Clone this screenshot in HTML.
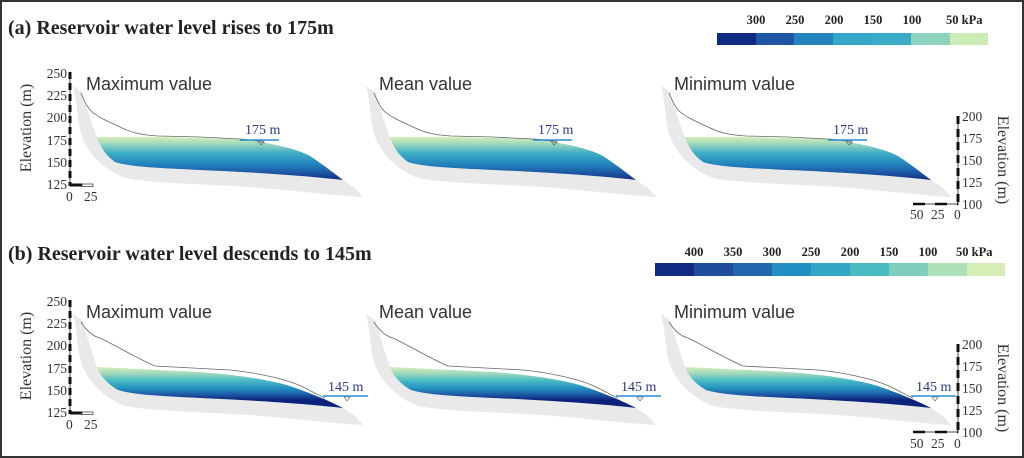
<!DOCTYPE html>
<html><head><meta charset="utf-8"><style>
html,body{margin:0;padding:0;background:#fff}
svg{display:block}
text{font-family:"Liberation Serif",serif;fill:#222}
.t{font-size:20px;font-weight:bold}
.lb{font-size:12.5px;font-weight:bold}
.pn{font-size:18px;fill:#333;font-family:"Liberation Sans",sans-serif}
.ax{font-size:13.5px;fill:#333}
.el{font-size:16px;fill:#333}
.wl{font-size:14px;fill:#2a3a8a}
</style></head><body>
<svg width="1024" height="458" viewBox="0 0 1024 458" xmlns="http://www.w3.org/2000/svg">
<defs>
<linearGradient id="ga" x1="0" y1="137" x2="0" y2="182" gradientUnits="userSpaceOnUse">
<stop offset="0" stop-color="#d6eeb6"/><stop offset="0.15" stop-color="#9fd8bd"/><stop offset="0.35" stop-color="#3fb0c6"/><stop offset="0.6" stop-color="#2284bd"/><stop offset="0.8" stop-color="#1d55a3"/><stop offset="1" stop-color="#0b237a"/>
</linearGradient>
<linearGradient id="gb" x1="0" y1="367" x2="0" y2="400" gradientUnits="userSpaceOnUse">
<stop offset="0" stop-color="#d6eeb6"/><stop offset="0.2" stop-color="#9fd8bd"/><stop offset="0.4" stop-color="#4cbcc4"/><stop offset="0.65" stop-color="#2290c0"/><stop offset="0.85" stop-color="#1d55a3"/><stop offset="1" stop-color="#0b237a"/>
</linearGradient>
<g id="pa">
<path d="M73,86 L82,92 L90,118 L97,137 L343,180 L355,188 L363,197 C340,196 300,191 250,187 C200,184 150,183 125,178 C100,168 85,150 80,130 C77,115 76,95 73,86Z" fill="#e9e9e9"/>
<path d="M97,137 L160,137 L240,139 C270,143 295,148 310,156 C325,166 335,174 343,180 C310,176 250,172 200,170 C160,168 130,167 115,162 C105,155 100,146 97,137Z" fill="url(#ga)"/>
<path d="M81,93 C85,102 88,110 95,114 C100,118 105,120 120,127 C130,132 140,135 158,136 L200,137 L240,139 C255,140 262,142 265,143" fill="none" stroke="#666" stroke-width="0.8"/>
<line x1="240" y1="140" x2="279" y2="140" stroke="#2a8ed0" stroke-width="1.5"/>
<path d="M258,141 L264,141 L261,145Z" fill="none" stroke="#555" stroke-width="0.6"/>
</g>
<g id="pb">
<path d="M73,314 L82,320 L90,346 L97,367 L343,408 L355,416 L363,425 C340,424 300,419 250,415 C200,412 150,411 125,406 C100,396 85,378 80,358 C77,343 76,323 73,314Z" fill="#e9e9e9"/>
<path d="M97,367 L200,372 C240,375 270,380 290,386 C310,393 330,401 343,408 C310,404 250,400 200,398 C160,396 135,395 118,390 C106,383 100,375 97,367Z" fill="url(#gb)"/>
<path d="M81,322 C86,330 92,336 100,338 C115,345 140,360 155,366 L230,370 C260,373 290,380 305,388 C315,393 322,397 325,398" fill="none" stroke="#666" stroke-width="0.8"/>
<line x1="323" y1="396" x2="368" y2="396" stroke="#2a8ed0" stroke-width="1.5"/>
<path d="M344,397 L350,397 L347,401Z" fill="none" stroke="#555" stroke-width="0.6"/>
</g>
</defs>
<rect x="1" y="1" width="1022" height="456" fill="none" stroke="#333" stroke-width="2"/>

<text class="t" x="8" y="34">(a)  Reservoir water level rises to 175m</text>
<text class="t" x="8" y="260">(b)  Reservoir water level descends to 145m</text>

<rect x="717" y="33" width="39" height="12" fill="#0e2a82"/>
<rect x="756" y="33" width="38" height="12" fill="#1f55a5"/>
<rect x="794" y="33" width="39" height="12" fill="#2383bd"/>
<rect x="833" y="33" width="39" height="12" fill="#35a6c8"/>
<rect x="872" y="33" width="39" height="12" fill="#3aabc8"/>
<rect x="911" y="33" width="39" height="12" fill="#8dd3be"/>
<rect x="950" y="33" width="38" height="12" fill="#cdebb5"/>
<text class="lb" x="756" y="24" text-anchor="middle">300</text>
<text class="lb" x="795" y="24" text-anchor="middle">250</text>
<text class="lb" x="834" y="24" text-anchor="middle">200</text>
<text class="lb" x="873" y="24" text-anchor="middle">150</text>
<text class="lb" x="912" y="24" text-anchor="middle">100</text>
<text class="lb" x="946" y="24">50 kPa</text>

<rect x="655" y="263" width="39" height="13" fill="#0e2a82"/>
<rect x="694" y="263" width="39" height="13" fill="#1f4d9e"/>
<rect x="733" y="263" width="39" height="13" fill="#2367ae"/>
<rect x="772" y="263" width="39" height="13" fill="#2290c2"/>
<rect x="811" y="263" width="39" height="13" fill="#33a8c6"/>
<rect x="850" y="263" width="39" height="13" fill="#4cbcc4"/>
<rect x="889" y="263" width="39" height="13" fill="#7fcdbd"/>
<rect x="928" y="263" width="39" height="13" fill="#aee0b7"/>
<rect x="967" y="263" width="38" height="13" fill="#d4eeb5"/>
<text class="lb" x="694" y="256" text-anchor="middle">400</text>
<text class="lb" x="733" y="256" text-anchor="middle">350</text>
<text class="lb" x="772" y="256" text-anchor="middle">300</text>
<text class="lb" x="811" y="256" text-anchor="middle">250</text>
<text class="lb" x="850" y="256" text-anchor="middle">200</text>
<text class="lb" x="889" y="256" text-anchor="middle">150</text>
<text class="lb" x="928" y="256" text-anchor="middle">100</text>
<text class="lb" x="956" y="256">50 kPa</text>

<use href="#pa"/>
<use href="#pa" transform="translate(293,0)"/>
<use href="#pa" transform="translate(588,0)"/>
<text class="pn" x="86" y="90">Maximum value</text>
<text class="pn" x="379" y="90">Mean value</text>
<text class="pn" x="674" y="90">Minimum value</text>
<text class="wl" x="245" y="134">175 m</text>
<text class="wl" x="538" y="134">175 m</text>
<text class="wl" x="833" y="134">175 m</text>

<use href="#pb"/>
<use href="#pb" transform="translate(293,0)"/>
<use href="#pb" transform="translate(588,0)"/>
<text class="pn" x="86" y="318">Maximum value</text>
<text class="pn" x="379" y="318">Mean value</text>
<text class="pn" x="674" y="318">Minimum value</text>
<text class="wl" x="328" y="391">145 m</text>
<text class="wl" x="621" y="391">145 m</text>
<text class="wl" x="916" y="391">145 m</text>

<line x1="70" y1="72" x2="70" y2="186" stroke="#111" stroke-width="3" stroke-dasharray="7,4"/>
<line x1="70" y1="72" x2="70" y2="186" stroke="#111" stroke-width="0.8"/>
<line x1="70" y1="185" x2="93" y2="185" stroke="#111" stroke-width="1"/>
<line x1="70" y1="185" x2="82" y2="185" stroke="#111" stroke-width="3"/>
<rect x="82" y="184" width="11" height="2.5" fill="#fff" stroke="#111" stroke-width="0.6"/>
<g text-anchor="end">
<text class="ax" x="67" y="78">250</text><text class="ax" x="67" y="100">225</text><text class="ax" x="67" y="122">200</text><text class="ax" x="67" y="145">175</text><text class="ax" x="67" y="167">150</text><text class="ax" x="67" y="189">125</text>
</g>
<text class="ax" x="66" y="201">0</text><text class="ax" x="84" y="201">25</text>
<text class="el" transform="translate(31,128) rotate(-90)" text-anchor="middle">Elevation (m)</text>

<line x1="70" y1="300" x2="70" y2="414" stroke="#111" stroke-width="3" stroke-dasharray="7,4"/>
<line x1="70" y1="300" x2="70" y2="414" stroke="#111" stroke-width="0.8"/>
<line x1="70" y1="413" x2="93" y2="413" stroke="#111" stroke-width="1"/>
<line x1="70" y1="413" x2="82" y2="413" stroke="#111" stroke-width="3"/>
<rect x="82" y="412" width="11" height="2.5" fill="#fff" stroke="#111" stroke-width="0.6"/>
<g text-anchor="end">
<text class="ax" x="67" y="306">250</text><text class="ax" x="67" y="328">225</text><text class="ax" x="67" y="350">200</text><text class="ax" x="67" y="373">175</text><text class="ax" x="67" y="395">150</text><text class="ax" x="67" y="417">125</text>
</g>
<text class="ax" x="66" y="429">0</text><text class="ax" x="84" y="429">25</text>
<text class="el" transform="translate(31,356) rotate(-90)" text-anchor="middle">Elevation (m)</text>

<line x1="958" y1="116" x2="958" y2="205" stroke="#111" stroke-width="3" stroke-dasharray="8,5"/>
<line x1="958" y1="116" x2="958" y2="205" stroke="#111" stroke-width="0.8"/>
<line x1="913" y1="204" x2="958" y2="204" stroke="#111" stroke-width="2.5" stroke-dasharray="12,10"/>
<line x1="913" y1="204" x2="958" y2="204" stroke="#111" stroke-width="0.8"/>
<text class="ax" x="962" y="121">200</text><text class="ax" x="962" y="143">175</text><text class="ax" x="962" y="165">150</text><text class="ax" x="962" y="187">125</text><text class="ax" x="962" y="209">100</text>
<text class="ax" x="910" y="219">50</text><text class="ax" x="931" y="219">25</text><text class="ax" x="954" y="219">0</text>
<text class="el" transform="translate(998,160) rotate(90)" text-anchor="middle">Elevation (m)</text>

<line x1="958" y1="344" x2="958" y2="433" stroke="#111" stroke-width="3" stroke-dasharray="8,5"/>
<line x1="958" y1="344" x2="958" y2="433" stroke="#111" stroke-width="0.8"/>
<line x1="913" y1="432" x2="958" y2="432" stroke="#111" stroke-width="2.5" stroke-dasharray="12,10"/>
<line x1="913" y1="432" x2="958" y2="432" stroke="#111" stroke-width="0.8"/>
<text class="ax" x="962" y="349">200</text><text class="ax" x="962" y="371">175</text><text class="ax" x="962" y="393">150</text><text class="ax" x="962" y="415">125</text><text class="ax" x="962" y="437">100</text>
<text class="ax" x="910" y="448">50</text><text class="ax" x="931" y="448">25</text><text class="ax" x="954" y="448">0</text>
<text class="el" transform="translate(998,388) rotate(90)" text-anchor="middle">Elevation (m)</text>
</svg>
</body></html>
